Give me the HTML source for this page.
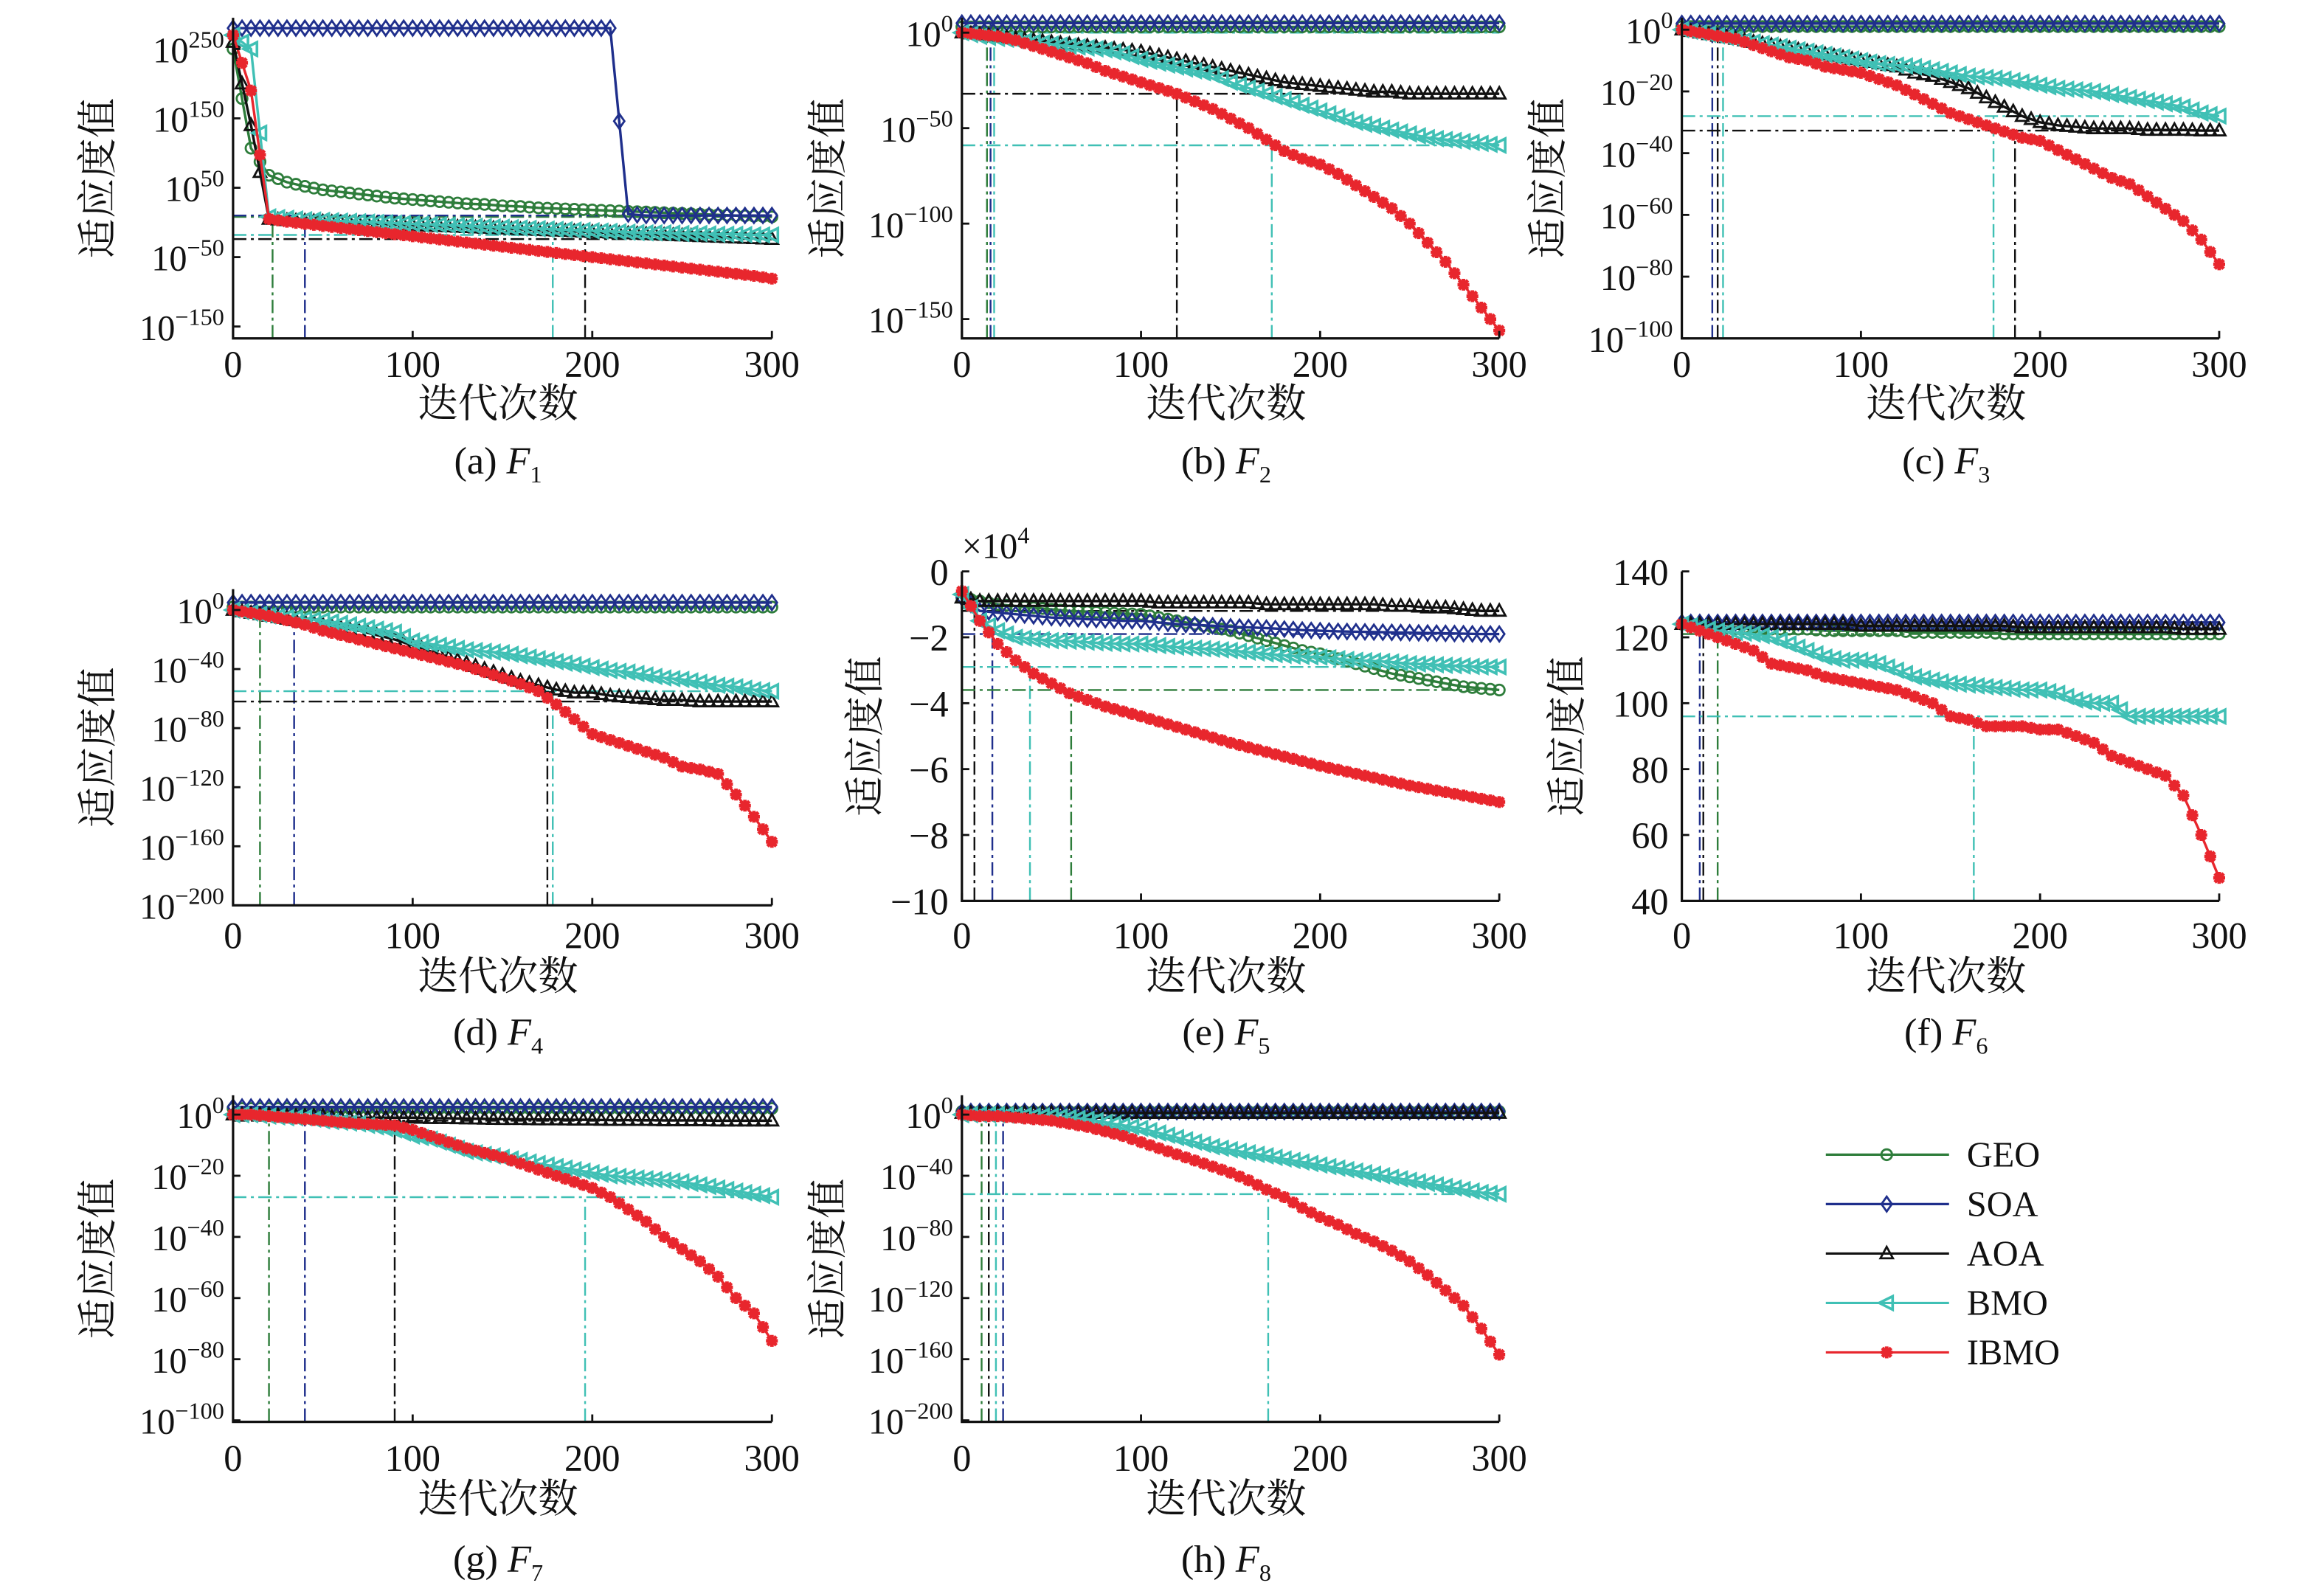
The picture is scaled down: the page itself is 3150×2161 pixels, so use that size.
<!DOCTYPE html>
<html><head><meta charset="utf-8"><style>
html,body{margin:0;padding:0;background:#fff;}
svg{display:block;}
text{font-family:"Liberation Serif","Noto Serif CJK SC",serif;fill:#111;}
.cjk{font-family:"Noto Serif CJK SC","Noto Sans CJK SC",serif;}
</style></head><body>
<svg id="chart" width="3150" height="2161" viewBox="0 0 1565.6 1074" preserveAspectRatio="none" xmlns="http://www.w3.org/2000/svg">
<g id="root"></g>
<g id="legend"></g>
</svg>
<script>
// iterations 0..300 step 10
const iters = [0,10,20,30,40,50,60,70,80,90,100,110,120,130,140,150,160,170,180,190,200,210,220,230,240,250,260,270,280,290,300];
const seriesNames = ["GEO","SOA","AOA","BMO","IBMO"];

// Panel a (log10)
const aGEO = [250,107,68,58,52,47,44,41,38,35,33,31,29,27,26,24,23,21,20,19,18,17,16,15,14,13,12,11,10,9,8];
const aSOA = [280,280,280,280,280,280,280,280,280,280,280,280,280,280,280,280,280,280,280,280,280,280,12,10,10,10,10,10,10,10,10];
const aAOA = [260,140,5,3,2,1,0,-1,-2,-3,-4,-5,-6,-7,-8,-9,-10,-11,-12,-13,-14,-15,-16,-17,-18,-19,-20,-21,-22,-23,-24];
const aBMO = [270,250,8,6,4,3,2,1,0,-1,-2,-3,-4,-5,-6,-7,-8,-9,-10,-11,-12,-13,-14,-15,-15,-16,-16,-17,-17,-18,-18];
const aIBMO = [270,190,5,1,-2,-5,-8,-11,-14,-17,-20,-23,-26,-29,-32,-35,-38,-41,-44,-47,-50,-53,-56,-59,-62,-65,-68,-71,-74,-77,-81];
const aGuideIter = [22,40,178,196]; const aGuideVal = [8,10,-18,-24]; const aGuideSeries = [0,1,3,2];

// Panel b
const bGEO = [3,3,3,3,3,3,3,3,3,3,3,3,3,3,3,3,3,3,3,3,3,3,3,3,3,3,3,3,3,3,3];
const bSOA = [5,5,5,5,5,5,5,5,5,5,5,5,5,5,5,5,5,5,5,5,5,5,5,5,5,5,5,5,5,5,5];
const bAOA = [0,-1,-2,-3,-4,-5,-6,-7,-8,-9,-10,-12,-14,-16,-18,-20,-22,-24,-26,-27,-28,-29,-30,-31,-31,-32,-32,-32,-32,-32,-32];
const bBMO = [0,-2,-3,-4,-5,-6,-7,-8,-9,-11,-14,-16,-18,-20,-22,-26,-29,-32,-35,-38,-41,-44,-47,-49,-51,-53,-55,-56,-57,-58,-59];
const bIBMO = [0,-1,-2,-4,-7,-10,-13,-16,-20,-23,-26,-29,-32,-36,-40,-45,-50,-56,-62,-66,-69,-74,-80,-86,-92,-100,-110,-120,-132,-144,-156];
const bGuideIter = [14,16,18,120,173]; const bGuideVal = [3,5,0,-32,-59]; const bGuideSeries = [0,1,3,2,3];

// Panel c
const cGEO = [1,1,1,1,1,1,1,1,1,1,1,1,1,1,1,1,1,1,1,1,1,1,1,1,1,1,1,1,1,1,1];
const cSOA = [2,2,2,2,2,2,2,2,2,2,2,2,2,2,2,2,2,2,2,2,2,2,2,2,2,2,2,2,2,2,2];
const cAOA = [0,-1,-2,-3,-4,-5,-6,-7,-8,-9,-10,-11,-12,-14,-15,-17,-19,-22,-25,-28,-30,-31,-31.5,-32,-32,-32,-32.5,-32.5,-32.5,-32.7,-32.7];
const cBMO = [0,-1,-2,-3,-4,-5,-6,-7,-8,-9,-10,-11,-11.5,-12,-13,-14,-15,-15.5,-16,-17,-18,-19,-19.5,-20,-21,-22,-23,-24,-25,-27,-28];
const cIBMO = [0,-1,-2,-3,-5,-7,-9,-10,-12,-13,-14,-16,-18,-21,-24,-27,-29,-31,-33,-35,-36,-39,-42,-45,-48,-50,-54,-58,-62,-68,-76];
const cGuideIter = [17,20,23,174,186]; const cGuideVal = [2,2,0,-28,-32.7]; const cGuideSeries = [1,2,3,3,2];

// Panel d
const dGEO = [2,2,2,2,2,2,2,2,2,2,2,2,2,2,2,2,2,2,2,2,2,2,2,2,2,2,2,2,2,2,2];
const dSOA = [5,5,5,5,5,5,5,5,5,5,5,5,5,5,5,5,5,5,5,5,5,5,5,5,5,5,5,5,5,5,5];
const dAOA = [0,-2,-4,-6,-8,-10,-12,-14,-17,-20,-24,-28,-32,-36,-40,-44,-48,-51,-54,-56,-56,-58,-59,-60,-61,-61,-62,-62,-62,-62,-62];
const dBMO = [0,-2,-4,-5,-6,-7,-9,-11,-13,-15,-21,-23,-25,-27,-28,-29,-31,-33,-35,-37,-39,-41,-42,-44,-46,-47,-49,-51,-52,-54,-55];
const dIBMO = [0,-2,-4,-7,-10,-14,-17,-20,-23,-26,-29,-32,-35,-38,-42,-46,-50,-55,-64,-74,-84,-88,-92,-96,-100,-106,-108,-111,-125,-140,-157];
const dGuideIter = [15,34,175,178]; const dGuideVal = [2,5,-62,-55]; const dGuideSeries = [0,1,2,3];

// Panel e (x10^4)
const eGEO = [-0.8,-0.9,-1.0,-1.05,-1.1,-1.15,-1.2,-1.22,-1.25,-1.28,-1.3,-1.4,-1.5,-1.6,-1.7,-1.8,-1.95,-2.1,-2.25,-2.4,-2.5,-2.65,-2.8,-2.95,-3.1,-3.2,-3.3,-3.4,-3.5,-3.55,-3.6];
const eSOA = [-0.8,-1.2,-1.25,-1.3,-1.35,-1.4,-1.42,-1.45,-1.47,-1.5,-1.5,-1.55,-1.6,-1.62,-1.65,-1.68,-1.7,-1.72,-1.75,-1.78,-1.8,-1.82,-1.83,-1.84,-1.85,-1.86,-1.87,-1.88,-1.89,-1.9,-1.9];
const eAOA = [-0.8,-0.9,-0.9,-0.9,-0.9,-0.9,-0.9,-0.9,-0.9,-0.9,-0.9,-0.95,-0.95,-0.95,-0.95,-0.95,-0.95,-1.0,-1.0,-1.0,-1.0,-1.0,-1.0,-1.0,-1.05,-1.05,-1.1,-1.1,-1.15,-1.2,-1.2];
const eBMO = [-0.7,-1.5,-1.8,-2.0,-2.05,-2.1,-2.12,-2.15,-2.18,-2.2,-2.2,-2.25,-2.3,-2.33,-2.36,-2.4,-2.45,-2.5,-2.55,-2.58,-2.6,-2.65,-2.7,-2.72,-2.75,-2.8,-2.82,-2.85,-2.87,-2.9,-2.9];
const eIBMO = [-0.6,-1.5,-2.2,-2.7,-3.1,-3.4,-3.7,-3.9,-4.1,-4.25,-4.4,-4.56,-4.72,-4.88,-5.04,-5.2,-5.34,-5.48,-5.62,-5.76,-5.9,-6.02,-6.14,-6.26,-6.38,-6.5,-6.6,-6.7,-6.8,-6.9,-7.0];
const eGuideIter = [7,17,38,61]; const eGuideVal = [-1.2,-1.9,-2.9,-3.6]; const eGuideSeries = [2,1,3,0];

// Panel f
const fGEO = [124,123.5,123,123,123,122.5,122.5,122.5,122,122,122,122,122,121.5,121.5,121.5,121.5,121.5,121,121,121,121,121,121,121,121,121,121,121,121,121];
const fSOA = [124.5,124.5,124.5,124.5,124.5,124.5,124.5,124.5,124.5,124.5,124.5,124.5,124.5,124.5,124.5,124.5,124.5,124.5,124.5,124.5,124.5,124.5,124.5,124.5,124.5,124.5,124.5,124.5,124.5,124.5,124.5];
const fAOA = [124,124,124,124,124,124,124,124,124,124,123.5,123.5,123.5,123.5,123.5,123.5,123.5,123.5,123.5,123,123,123,123,123,123,123,123,123,122.5,122.5,122.5];
const fBMO = [124,123,122,121.5,121,120,118,116,114,113,113,112,110,108,107,106,105.5,105,104.5,104,104,103,101,100,100,96,96,96,96,96,96];
const fIBMO = [124,122,120,118,116,112,111,110,108,107,106,105,104,102,100,96,95,93,93,93,92,92,90,88,84,82,80,78,72,60,47];
const fGuideIter = [10,12,20,163]; const fGuideVal = [124.5,123,121,96]; const fGuideSeries = [1,2,0,3];

// Panel g
const gGEO = [2,2,2,2,2,2,2,2,2,2,2,2,2,2,2,2,2,2,2,2,2,2,2,2,2,2,2,2,2,2,2];
const gSOA = [2.5,2.5,2.5,2.5,2.5,2.5,2.5,2.5,2.5,2.5,2.5,2.5,2.5,2.5,2.5,2.5,2.5,2.5,2.5,2.5,2.5,2.5,2.5,2.5,2.5,2.5,2.5,2.5,2.5,2.5,2.5];
const gAOA = [0,0,0,-0.5,-0.5,-0.5,-1,-1,-1,-1,-1,-1.2,-1.2,-1.3,-1.4,-1.5,-1.5,-1.6,-1.6,-1.7,-1.7,-1.8,-1.8,-1.8,-1.9,-1.9,-1.9,-2,-2,-2,-2];
const gBMO = [0,0,-0.5,-1,-1,-2,-2.5,-3,-4,-5,-7,-8,-10,-12,-13,-14,-15,-16,-17,-18,-19,-20,-20.5,-21,-21.5,-22,-23,-24,-25,-26,-27];
const gIBMO = [0,0,-0.5,-1,-1.5,-2,-2.5,-3,-3.2,-3.5,-5,-7,-9,-11,-12.5,-14,-16,-18,-20,-22,-24,-27,-31,-35,-40,-44,-48,-53,-60,-65,-74];
const gGuideIter = [20,40,90,196]; const gGuideVal = [2,2.5,-2,-27]; const gGuideSeries = [0,1,2,3];

// Panel h
const hGEO = [2,2,2,2,2,2,2,2,2,2,2,2,2,2,2,2,2,2,2,2,2,2,2,2,2,2,2,2,2,2,2];
const hSOA = [2,2,2,2,2,2,2,2,2,2,2,2,2,2,2,2,2,2,2,2,2,2,2,2,2,2,2,2,2,2,2];
const hAOA = [1,1,1,1,1,1,1,1,1,1,1,1,1,1,1,1,1,1,1,1,1,1,1,1,1,1,1,1,1,1,1];
const hBMO = [0,0,0,-0.5,-1,-1,-2,-3,-5,-7,-9,-12,-15,-18,-21,-23,-25,-27,-29,-31,-33,-35,-37,-39,-41,-43,-45,-47,-49,-51,-52];
const hIBMO = [0,-1,-1,-2,-3,-4,-6,-8,-11,-14,-18,-22,-26,-30,-34,-38,-43,-49,-54,-61,-67,-72,-78,-83,-89,-96,-105,-115,-125,-140,-157];
const hGuideIter = [11,15,19,23,171]; const hGuideVal = [2,1,0,2,-52]; const hGuideSeries = [0,2,3,1,3];

const xTicks = [0,100,200,300];
const aTicks = [250,150,50,-50,-150];
const bTicks = [0,-50,-100,-150];
const cTicks = [0,-20,-40,-60,-80,-100];
const dTicks = [0,-40,-80,-120,-160,-200];
const eTicks = [0,-2,-4,-6,-8,-10];
const fTicks = [140,120,100,80,60,40];
const gTicks = [0,-20,-40,-60,-80,-100];
const hTicks = [0,-40,-80,-120,-160,-200];

const colors = ["#2e7d3b","#1f2f8c","#111111","#40c0b5","#e8262d"];
const NS = "http://www.w3.org/2000/svg";
const root = document.getElementById("root");
function el(tag, attrs, parent){const e=document.createElementNS(NS,tag);for(const k in attrs)e.setAttribute(k,attrs[k]);(parent||root).appendChild(e);return e;}

const panels = [
 {id:"a",x0:157,x1:520,yt:12,yb:228,v1:250,p1:33,v2:-150,p2:220,log:true,ylx:68,data:[aGEO,aSOA,aAOA,aBMO,aIBMO],ticks:aTicks,gi:aGuideIter,gv:aGuideVal,gs:aGuideSeries,cap:"1",xl:245,xn:272,cy:310},
 {id:"b",x0:648,x1:1010,yt:12,yb:228,v1:0,p1:22,v2:-150,p2:215,log:true,ylx:560,data:[bGEO,bSOA,bAOA,bBMO,bIBMO],ticks:bTicks,gi:bGuideIter,gv:bGuideVal,gs:bGuideSeries,cap:"2",xl:245,xn:272,cy:310},
 {id:"c",x0:1133,x1:1495,yt:12,yb:228,v1:0,p1:20,v2:-100,p2:228,log:true,ylx:1045,data:[cGEO,cSOA,cAOA,cBMO,cIBMO],ticks:cTicks,gi:cGuideIter,gv:cGuideVal,gs:cGuideSeries,cap:"3",xl:245,xn:272,cy:310},
 {id:"d",x0:157,x1:520,yt:397,yb:610,v1:0,p1:411,v2:-200,p2:610,log:true,ylx:68,data:[dGEO,dSOA,dAOA,dBMO,dIBMO],ticks:dTicks,gi:dGuideIter,gv:dGuideVal,gs:dGuideSeries,cap:"4",xl:630,xn:658,cy:695},
 {id:"e",x0:648,x1:1010,yt:385,yb:607,v1:0,p1:385,v2:-10,p2:607,log:false,ylx:585,data:[eGEO,eSOA,eAOA,eBMO,eIBMO],ticks:eTicks,gi:eGuideIter,gv:eGuideVal,gs:eGuideSeries,cap:"5",xl:630,xn:658,cy:695},
 {id:"f",x0:1133,x1:1495,yt:385,yb:607,v1:140,p1:385,v2:40,p2:607,log:false,ylx:1058,data:[fGEO,fSOA,fAOA,fBMO,fIBMO],ticks:fTicks,gi:fGuideIter,gv:fGuideVal,gs:fGuideSeries,cap:"6",xl:630,xn:658,cy:695},
 {id:"g",x0:157,x1:520,yt:738,yb:958,v1:0,p1:751,v2:-100,p2:957,log:true,ylx:68,data:[gGEO,gSOA,gAOA,gBMO,gIBMO],ticks:gTicks,gi:gGuideIter,gv:gGuideVal,gs:gGuideSeries,cap:"7",xl:982,xn:1010,cy:1050},
 {id:"h",x0:648,x1:1010,yt:738,yb:958,v1:0,p1:751,v2:-200,p2:957,log:true,ylx:560,data:[hGEO,hSOA,hAOA,hBMO,hIBMO],ticks:hTicks,gi:hGuideIter,gv:hGuideVal,gs:hGuideSeries,cap:"8",xl:982,xn:1010,cy:1050}
];

function marker(g, k, x, y){
  const c = colors[k]; let m;
  if(k===0){ m=el("circle",{cx:x,cy:y,r:3.6,fill:"none",stroke:c,"stroke-width":1.4},g); }
  else if(k===1){ m=el("polygon",{points:`${x},${y-5} ${x+3.5},${y} ${x},${y+5} ${x-3.5},${y}`,fill:"none",stroke:c,"stroke-width":1.4},g); }
  else if(k===2){ m=el("polygon",{points:`${x},${y-4.5} ${x+4.2},${y+3.2} ${x-4.2},${y+3.2}`,fill:"none",stroke:c,"stroke-width":1.4},g); }
  else if(k===3){ m=el("polygon",{points:`${x-5},${y} ${x+4},${y-4.5} ${x+4},${y+4.5}`,fill:"none",stroke:c,"stroke-width":1.8},g); }
  else { m=el("path",{d:`M${x-4},${y}H${x+4}M${x},${y-4}V${y+4}M${x-3},${y-3}L${x+3},${y+3}M${x-3},${y+3}L${x+3},${y-3}`,stroke:c,"stroke-width":2.4,fill:"none"},g); }
  
  
}

function superLabel(g, x, y, exp){
  const t = el("text",{x:x,y:y,"text-anchor":"end","font-size":24},g);
  
  
  const s1 = el("tspan",{},t); s1.textContent="10";
  const s2 = el("tspan",{dy:-10,"font-size":16},t); s2.textContent=(exp<0?"\u2212"+(-exp):String(exp));
}

panels.forEach(p=>{
  const g = el("g",{});
  
  
  const xs = v => p.x0 + (v/300)*(p.x1-p.x0);
  const ys = v => p.p1 + (v-p.v1)*(p.p2-p.p1)/(p.v2-p.v1);
  p.gi.forEach((it,i)=>{
    const c = colors[p.gs[i]];
    const gy = ys(p.gv[i]);
    const l1 = el("line",{x1:xs(it),x2:xs(it),y1:p.yb,y2:Math.max(gy,p.yt),stroke:c,"stroke-width":1.2,"stroke-dasharray":"9 3 2 3"},g);
    
    
    const l2 = el("line",{x1:p.x0,x2:p.x1,y1:gy,y2:gy,stroke:c,"stroke-width":1.2,"stroke-dasharray":"9 3 2 3"},g);
    
    
  });
  p.data.forEach((arr,k)=>{
    const sg = el("g",{},g);
    
    
    const clampY = v => Math.max(p.yt-4, Math.min(p.yb, ys(v)));
    const pts = arr.map((v,i)=>[xs(iters[i]), clampY(v)]);
    const pl = el("polyline",{points:pts.map(q=>q.join(",")).join(" "),fill:"none",stroke:colors[k],"stroke-width":1.7},sg);
    
    
    pts.forEach((q,i)=>{
      marker(sg,k,q[0],q[1]);
      if(i<pts.length-1){ marker(sg,k,(q[0]+pts[i+1][0])/2,(q[1]+pts[i+1][1])/2); }
    });
  });
  const ax = el("path",{d:`M${p.x0},${p.yt}V${p.yb}H${p.x1}`,fill:"none",stroke:"#111","stroke-width":1.6},g);
  
  
  xTicks.forEach(t=>{
    const tk = el("line",{x1:xs(t),x2:xs(t),y1:p.yb,y2:p.yb-5,stroke:"#111","stroke-width":1.4},g);
    
    
    const tl = el("text",{x:xs(t),y:p.xl+9,"text-anchor":"middle","font-size":25},g);
    tl.textContent = String(t);
    
    
  });
  p.ticks.forEach(t=>{
    const y = ys(t);
    const tk = el("line",{x1:p.x0,x2:p.x0+5,y1:y,y2:y,stroke:"#111","stroke-width":1.4},g);
    
    
    if(p.log){ superLabel(g, p.x0-6, y+9, t); }
    else {
      const tl = el("text",{x:p.x0-9,y:y+9,"text-anchor":"end","font-size":25},g);
      tl.textContent = t<0 ? "\u2212"+(-t) : String(t);
      
      
    }
  });
  const cy = (p.yt+p.yb)/2;
  const yl = el("text",{x:p.ylx,y:cy,"text-anchor":"middle","font-size":27,class:"cjk",transform:`rotate(-90 ${p.ylx} ${cy})`,"dominant-baseline":"middle"},g);
  yl.textContent = "适应度值";
  
  
  const cx = (p.x0+p.x1)/2 - 3;
  const xn = el("text",{x:cx,y:p.xn+9,"text-anchor":"middle","font-size":27,class:"cjk"},g);
  xn.textContent = "迭代次数";
  
  
  const cap = el("text",{x:cx,y:p.cy+9,"text-anchor":"middle","font-size":26},g);
  
  
  const c1 = el("tspan",{},cap); c1.textContent = "("+p.id+") ";
  const c2 = el("tspan",{"font-style":"italic"},cap); c2.textContent = "F";
  const c3 = el("tspan",{dy:6,"font-size":16},cap); c3.textContent = p.cap;
  if(p.id==="e"){
    const mult = el("text",{x:p.x0,y:376,"font-size":24},g);
    
    
    const m1 = el("tspan",{},mult); m1.textContent = "\u00d710";
    const m2 = el("tspan",{dy:-10,"font-size":16},mult); m2.textContent = "4";
  }
});

const lg = document.getElementById("legend");
seriesNames.forEach((n,k)=>{
  const y = 778 + k*33.3;
  const eg = el("g",{},lg);
  
  
  const ln = el("line",{x1:1230,x2:1313,y1:y,y2:y,stroke:colors[k],"stroke-width":1.6},eg);
  
  
  marker(eg,k,1271,y);
  const t = el("text",{x:1325,y:y+8,"font-size":24},eg);
  t.textContent = n;
  
  
});
</script>
</body></html>
